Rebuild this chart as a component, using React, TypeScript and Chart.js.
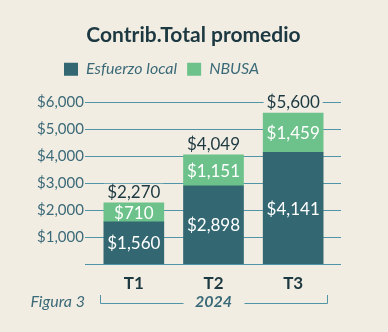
import React, { useEffect, useRef } from "react";
import { Chart, registerables } from "chart.js";

Chart.register(...registerables);

const categories = ["T1", "T2", "T3"];
const seriesNames = ["Esfuerzo local", "NBUSA"];
const esfuerzoLocal = [1560, 2898, 4141];
const nbusa = [710, 1151, 1459];
const yTicks = [0, 1000, 2000, 3000, 4000, 5000, 6000];
const titleText = "Contrib.Total promedio";
const figureLabel = "Figura 3";
const yearLabel = "2024";

const BG = "#f2ede3";
const DARK = "#336873";
const GREEN = "#6cc28a";
const GRID = "#5095a7";
const TEAL_TEXT = "#3b6a78";
const INK = "#1c3840";
const FONT = "Lato, 'Open Sans', sans-serif";

const money = (v: number) => "$" + Number(v).toLocaleString("en-US");

const overlay = {
  id: "overlay",
  beforeDatasetsDraw(chart: any) {
    const { ctx, chartArea, scales } = chart;
    const y = scales.y;
    ctx.save();
    ctx.strokeStyle = GRID;
    ctx.lineWidth = 1;
    yTicks.forEach((t) => {
      const py = Math.round(y.getPixelForValue(t)) + 0.5;
      ctx.beginPath();
      ctx.moveTo(chartArea.left - 9, py);
      ctx.lineTo(chartArea.right + 8, py);
      ctx.stroke();
    });
    ctx.restore();
  },
  afterDatasetsDraw(chart: any) {
    const { ctx } = chart;
    const metas = [chart.getDatasetMeta(0), chart.getDatasetMeta(1)];
    ctx.save();
    ctx.textAlign = "center";
    ctx.textBaseline = "middle";
    ctx.font = `17px ${FONT}`;
    ctx.fillStyle = "#ffffff";
    metas.forEach((meta, di) => {
      meta.data.forEach((bar: any, i: number) => {
        const { x, y, base } = bar.getProps(["x", "y", "base"], true);
        const v = chart.data.datasets[di].data[i] as number;
        ctx.fillText(money(v), x, (y + base) / 2 + 1);
      });
    });
    metas[1].data.forEach((bar: any, i: number) => {
      const { x, y } = bar.getProps(["x", "y"], true);
      const txt = money(esfuerzoLocal[i] + nbusa[i]);
      const w = ctx.measureText(txt).width;
      const cy = y - 10;
      ctx.fillStyle = BG;
      ctx.fillRect(x - w / 2 - 3, cy - 9, w + 6, 18);
      ctx.fillStyle = INK;
      ctx.fillText(txt, x, cy);
    });
    ctx.restore();
  },
  afterDraw(chart: any) {
    const { ctx, chartArea, scales } = chart;
    const xs = scales.x;
    const meta = chart.getDatasetMeta(0);
    const first: any = meta.data[0];
    const last: any = meta.data[meta.data.length - 1];
    const left = first.x - first.width / 2 - 4;
    const right = last.x + last.width / 2 + 3.5;
    const cx = xs.getPixelForValue(1);
    const lineY = Math.round(chartArea.bottom + 39) + 0.5;
    const topY = chartArea.bottom + 31;
    const textY = chartArea.bottom + 38;
    ctx.save();
    ctx.textBaseline = "middle";
    ctx.font = `italic 16px ${FONT}`;
    ctx.fillStyle = TEAL_TEXT;
    ctx.textAlign = "right";
    ctx.fillText(figureLabel, chartArea.left - 9, textY);
    ctx.font = `italic bold 16px ${FONT}`;
    ctx.textAlign = "center";
    ctx.fillText(yearLabel, cx, textY);
    ctx.strokeStyle = GRID;
    ctx.lineWidth = 1;
    ctx.beginPath();
    ctx.moveTo(Math.round(left) + 0.5, topY);
    ctx.lineTo(Math.round(left) + 0.5, lineY);
    ctx.lineTo(cx - 30, lineY);
    ctx.moveTo(cx + 31, lineY);
    ctx.lineTo(Math.round(right) + 0.5, lineY);
    ctx.lineTo(Math.round(right) + 0.5, topY);
    ctx.stroke();
    ctx.restore();
  },
};

export default function App() {
  const ref = useRef<HTMLCanvasElement | null>(null);

  useEffect(() => {
    document.body.style.margin = "0";
    document.body.style.background = BG;
    const canvas = ref.current;
    if (!canvas) return;
    const chart = new Chart(canvas, {
      type: "bar",
      data: {
        labels: categories,
        datasets: [
          {
            label: seriesNames[0],
            data: esfuerzoLocal,
            backgroundColor: DARK,
            borderWidth: 0,
            barThickness: 60,
            stack: "s",
          },
          {
            label: seriesNames[1],
            data: nbusa,
            backgroundColor: GREEN,
            borderWidth: 0,
            barThickness: 60,
            stack: "s",
          },
        ],
      },
      options: {
        animation: false,
        responsive: false,
        maintainAspectRatio: false,
        layout: { padding: { left: 54, right: 55, top: 0, bottom: 38 } },
        plugins: {
          title: {
            display: true,
            text: titleText,
            color: INK,
            font: { family: FONT, size: 21, weight: "bold", lineHeight: 1.2 },
            padding: { top: 23, bottom: 3 },
          },
          subtitle: {
            display: true,
            text: "",
            weight: 500,
            padding: 0,
            font: { size: 15, lineHeight: 1 },
          } as any,
          legend: {
            display: true,
            position: "top",
            align: "start",
            labels: {
              boxWidth: 14,
              boxHeight: 13,
              padding: 10,
              color: TEAL_TEXT,
              font: { family: FONT, size: 16, style: "italic" },
            },
          },
          tooltip: { enabled: false },
        },
        scales: {
          x: {
            stacked: true,
            grid: { display: false, drawTicks: false },
            border: { display: false },
            ticks: {
              color: INK,
              font: { family: FONT, size: 17, weight: "bold" },
              padding: 9,
            },
            afterFit: (s: any) => {
              s.height = 30;
            },
          },
          y: {
            stacked: true,
            min: 0,
            max: 6000,
            grid: { display: false, drawTicks: false },
            border: { display: false },
            ticks: {
              stepSize: 1000,
              mirror: true,
              padding: -57,
              color: TEAL_TEXT,
              font: { family: FONT, size: 15 },
              callback: (v: any) => (Number(v) === 0 ? "" : money(Number(v))),
            },
            afterFit: (s: any) => {
              s.width = 40;
            },
          },
        },
      },
      plugins: [overlay],
    });
    return () => chart.destroy();
  }, []);

  return (
    <div style={{ width: 388, height: 332, background: BG }}>
      <canvas ref={ref} width={388} height={332} style={{ display: "block", width: 388, height: 332 }} />
    </div>
  );
}
